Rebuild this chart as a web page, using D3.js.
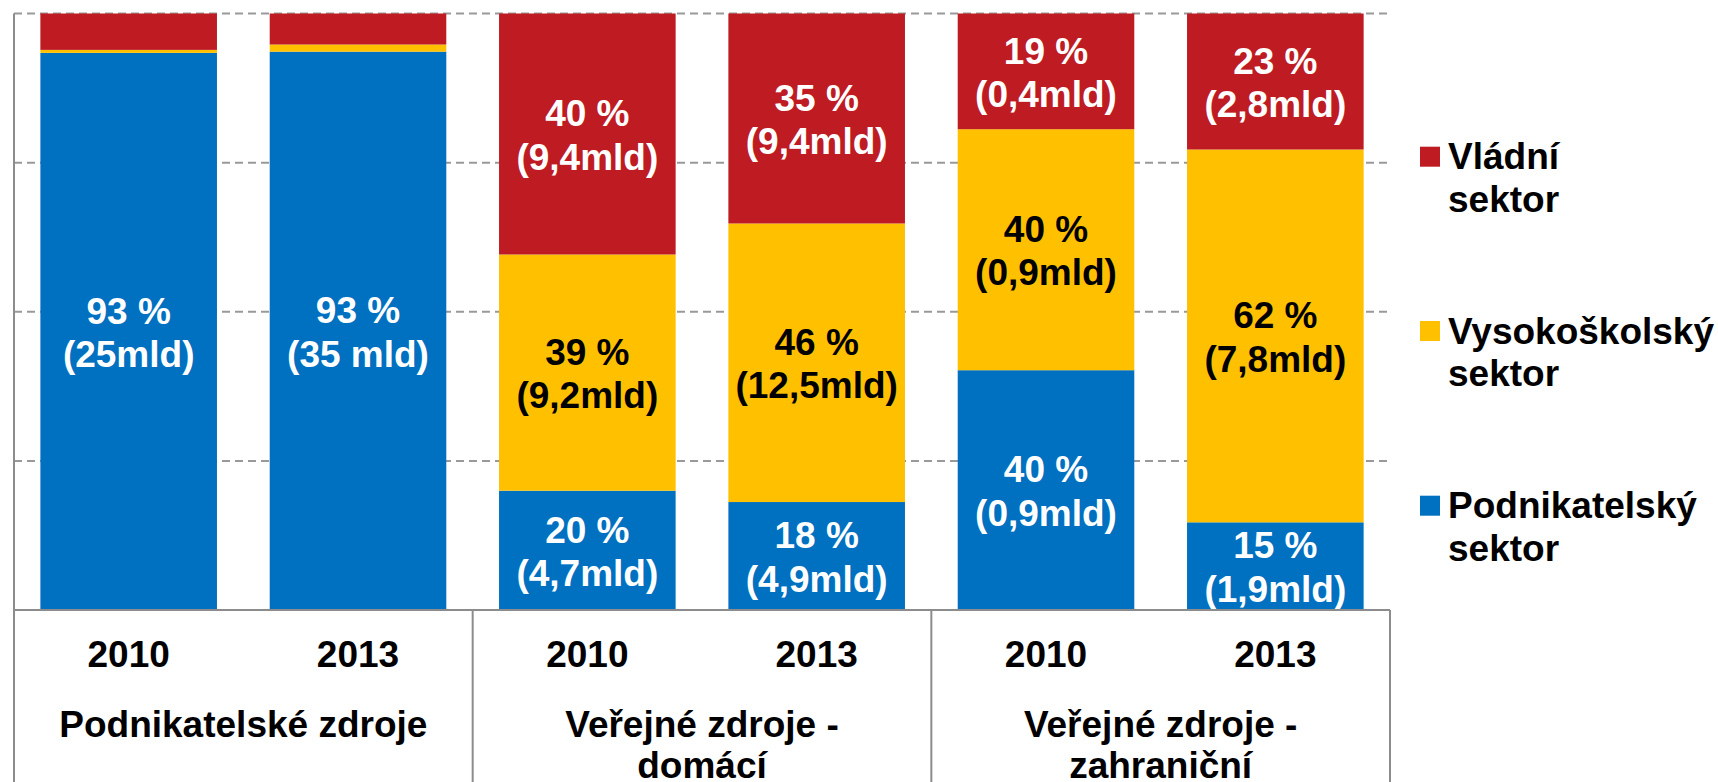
<!DOCTYPE html>
<html>
<head>
<meta charset="utf-8">
<title>Sektory provádění VaV podle zdrojů</title>
<script src="https://cdn.jsdelivr.net/npm/d3@7"></script>
<style>
    html, body { margin: 0; padding: 0; background: #fff; }
    svg { display: block; font-family: "Liberation Sans", Arial, sans-serif; font-weight: bold; }
</style>
</head>
<body>
<div id="chart-area"></div>
<script>
// bars, left to right
const years = ["2010", "2013", "2010", "2013", "2010", "2013"];
const groups = ["Podnikatelské zdroje", "Veřejné zdroje - domácí", "Veřejné zdroje - zahraniční"];
const groupLines = [["Podnikatelské zdroje"], ["Veřejné zdroje -", "domácí"], ["Veřejné zdroje -", "zahraniční"]];

// shares in %
const podnikatelsky = [93.4, 93.6, 20.0, 18.1, 40.2, 14.7];
const vysokoskolsky = [0.5, 1.2, 39.6, 46.7, 40.4, 62.5];
const vladni = [6.1, 5.2, 40.4, 35.2, 19.4, 22.8];

// segment labels (null = no label)
const podnikatelskyLabels = [["93 %", "(25mld)"], ["93 %", "(35 mld)"], ["20 %", "(4,7mld)"], ["18 %", "(4,9mld)"], ["40 %", "(0,9mld)"], ["15 %", "(1,9mld)"]];
const vysokoskolskyLabels = [null, null, ["39 %", "(9,2mld)"], ["46 %", "(12,5mld)"], ["40 %", "(0,9mld)"], ["62 %", "(7,8mld)"]];
const vladniLabels = [null, null, ["40 %", "(9,4mld)"], ["35 %", "(9,4mld)"], ["19 %", "(0,4mld)"], ["23 %", "(2,8mld)"]];

const yTicks = [25, 50, 75, 100];

(function () {
    'use strict';

    const WIDTH = 1718, HEIGHT = 782;
    const PLOT = {LEFT: 14, RIGHT: 1390, TOP: 13.5, BOTTOM: 610};
    const FONT = 37, LINE = 43.4;

    const series = [
        {key: "podnikatelsky", name: ["Podnikatelský", "sektor"], color: "#0070C0", text: "#fff", values: podnikatelsky, labels: podnikatelskyLabels},
        {key: "vysokoskolsky", name: ["Vysokoškolský", "sektor"], color: "#FFC000", text: "#000", values: vysokoskolsky, labels: vysokoskolskyLabels},
        {key: "vladni", name: ["Vládní", "sektor"], color: "#BE1B22", text: "#fff", values: vladni, labels: vladniLabels}
    ];

    const rows = years.map((y, i) => {
        const r = {i: i};
        series.forEach(s => r[s.key] = s.values[i]);
        return r;
    });

    const stacked = d3.stack().keys(series.map(s => s.key))(rows);

    const svg = d3.select("#chart-area").append("svg")
        .attr("width", WIDTH)
        .attr("height", HEIGHT);

    const xScale = d3.scaleBand()
        .domain(d3.range(years.length))
        .range([PLOT.LEFT, PLOT.RIGHT])
        .paddingInner(0.23)
        .paddingOuter(0.115);

    const groupScale = d3.scaleBand()
        .domain(groups)
        .range([PLOT.LEFT, PLOT.RIGHT]);

    const yScale = d3.scaleLinear()
        .domain([0, 100])
        .range([PLOT.BOTTOM, PLOT.TOP]);

    // dashed gridlines behind the bars
    svg.append("g").selectAll("line")
        .data(yTicks)
        .join("line")
        .attr("x1", PLOT.LEFT)
        .attr("x2", PLOT.RIGHT)
        .attr("y1", d => yScale(d))
        .attr("y2", d => yScale(d))
        .attr("stroke", "#999")
        .attr("stroke-width", 2)
        .attr("stroke-dasharray", "8,5");

    // stacked bars
    const layers = svg.append("g").selectAll("g")
        .data(stacked)
        .join("g")
        .attr("fill", (d, i) => series[i].color);

    layers.selectAll("rect")
        .data(d => d)
        .join("rect")
        .attr("x", d => xScale(d.data.i))
        .attr("width", xScale.bandwidth())
        .attr("y", d => yScale(d[1]))
        .attr("height", d => yScale(d[0]) - yScale(d[1]));

    // segment labels
    const labelG = svg.append("g").attr("text-anchor", "middle").style("font-size", FONT + "px");
    stacked.forEach((layer, si) => {
        layer.forEach((d, i) => {
            const lab = series[si].labels[i];
            if (!lab) return;
            const mid = (yScale(d[0]) + yScale(d[1])) / 2;
            const t = labelG.append("text")
                .attr("fill", series[si].text)
                .attr("x", xScale(i) + xScale.bandwidth() / 2);
            lab.forEach((line, k) => {
                t.append("tspan")
                    .attr("x", xScale(i) + xScale.bandwidth() / 2)
                    .attr("y", mid - LINE / 2 + 14 + k * LINE)
                    .text(line);
            });
        });
    });

    // axis frame
    const axisColor = "#8c8c8c";
    svg.append("line")
        .attr("x1", PLOT.LEFT).attr("x2", PLOT.LEFT)
        .attr("y1", PLOT.TOP).attr("y2", HEIGHT)
        .attr("stroke", axisColor).attr("stroke-width", 2);
    svg.append("line")
        .attr("x1", PLOT.LEFT).attr("x2", PLOT.RIGHT)
        .attr("y1", PLOT.BOTTOM).attr("y2", PLOT.BOTTOM)
        .attr("stroke", axisColor).attr("stroke-width", 2);
    svg.append("g").selectAll("line")
        .data(groups)
        .join("line")
        .attr("x1", d => groupScale(d) + groupScale.bandwidth())
        .attr("x2", d => groupScale(d) + groupScale.bandwidth())
        .attr("y1", PLOT.BOTTOM)
        .attr("y2", HEIGHT)
        .attr("stroke", axisColor).attr("stroke-width", 2);

    // year labels
    svg.append("g").attr("text-anchor", "middle").style("font-size", FONT + "px")
        .selectAll("text")
        .data(years)
        .join("text")
        .attr("x", (d, i) => xScale(i) + xScale.bandwidth() / 2)
        .attr("y", 667)
        .attr("fill", "#000")
        .text(d => d);

    // group labels
    const gl = svg.append("g").attr("text-anchor", "middle").style("font-size", FONT + "px")
        .selectAll("text")
        .data(groups)
        .join("text")
        .attr("fill", "#000");
    gl.each(function (d, i) {
        const cx = groupScale(d) + groupScale.bandwidth() / 2;
        groupLines[i].forEach((line, k) => {
            d3.select(this).append("tspan")
                .attr("x", cx)
                .attr("y", 736.5 + k * 41.5)
                .text(line);
        });
    });

    // legend, top entry is the top segment
    const legendTops = [495.7, 321, 146.7];
    const legend = svg.append("g").style("font-size", FONT + "px")
        .selectAll("g")
        .data(series)
        .join("g")
        .attr("transform", (d, i) => `translate(1420, ${legendTops[i]})`);
    legend.append("rect")
        .attr("width", 20)
        .attr("height", 20)
        .attr("fill", d => d.color);
    legend.append("text")
        .attr("fill", "#000")
        .each(function (d) {
            d.name.forEach((line, k) => {
                d3.select(this).append("tspan")
                    .attr("x", 28)
                    .attr("y", 22.5 + k * 42.7)
                    .text(line);
            });
        });
})();
</script>
</body>
</html>
